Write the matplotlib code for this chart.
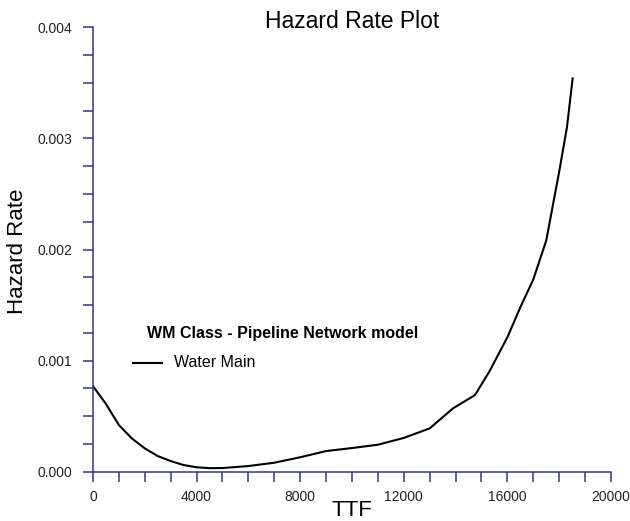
import numpy as np
from matplotlib import pyplot as plt
from matplotlib.ticker import MultipleLocator, FormatStrFormatter

plt.rcParams['font.family'] = ['Liberation Sans', 'DejaVu Sans']

# Hazard rate curve
ttf = [0, 500, 1000, 1500, 2000, 2500, 3000, 3500, 4000, 4500, 5000, 6000, 7000,
       8000, 9000, 10000, 11000, 12000, 13000, 13900, 14750, 15300, 16000,
       16500, 17000, 17500, 18000, 18300, 18520]
hazard = [0.00077, 0.00061, 0.00042, 0.0003, 0.00021, 0.000141, 0.000096, 0.00006,
          0.00004, 0.000032, 0.000033, 0.000051, 0.000081, 0.00013, 0.000186, 0.000213,
          0.000243, 0.000304, 0.00039, 0.00057, 0.00069, 0.0009, 0.00121,
          0.00148, 0.00173, 0.00208, 0.0027, 0.0031, 0.00354]

axis_col = "#34348c"

fig = plt.figure(figsize=(6.3, 5.21), dpi=100)
ax = fig.add_axes([0.1476, 0.0946, 0.8222, 0.853])

ax.plot(ttf, hazard, color="black", lw=1.5)

ax.set_xlim(0, 20000)
ax.set_ylim(0, 0.004)
ax.xaxis.set_major_locator(MultipleLocator(4000))
ax.xaxis.set_minor_locator(MultipleLocator(1000))
ax.yaxis.set_major_locator(MultipleLocator(0.001))
ax.yaxis.set_minor_locator(MultipleLocator(0.00025))
ax.yaxis.set_major_formatter(FormatStrFormatter("%.3f"))

for s in ["top", "right"]:
	ax.spines[s].set_visible(False)
for s in ["left", "bottom"]:
	ax.spines[s].set_color(axis_col)
	ax.spines[s].set_linewidth(1.1)
ax.tick_params(which="both", direction="out", length=7, width=1.1, color=axis_col,
               labelsize=10, labelcolor="#222222")
ax.tick_params(axis="x", pad=6)
ax.tick_params(axis="y", pad=8)

ax.set_ylabel("Hazard Rate", fontsize=16)
ax.yaxis.set_label_coords(-0.125, 0.495)
# title and x label placed on the figure so they sit where the reference has them
fig.text(0.559, 0.009, "TTF", fontsize=16, ha="center", va="baseline")
fig.text(0.559, 0.946, "Hazard Rate Plot", fontsize=16.5, ha="center", va="baseline")

ax.text(2070, 0.001247, "WM Class - Pipeline Network model", fontsize=11.5, fontweight="bold",
        va="center")
ax.plot([1545, 2660], [0.000982, 0.000982], color="black", lw=1.5)
ax.text(3130, 0.000982, "Water Main", fontsize=11.5, va="center")

fig.savefig("out.png", dpi=100)
